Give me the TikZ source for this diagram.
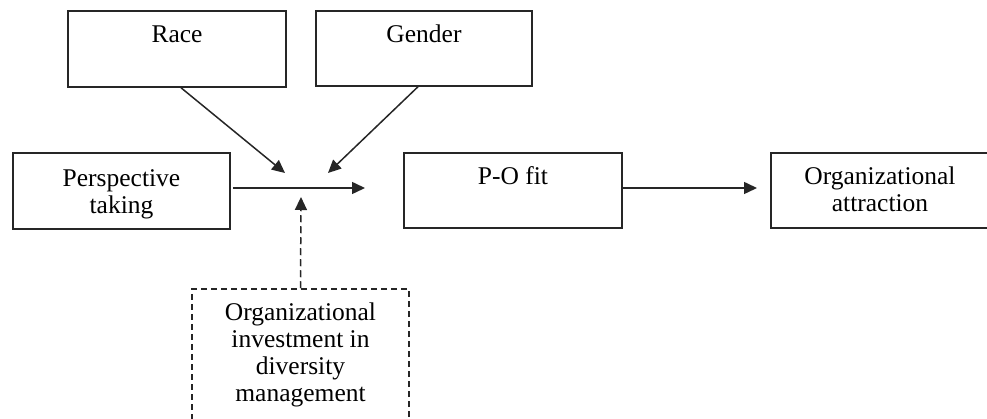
\documentclass[tikz,border=0pt]{standalone}
\usepackage{fontspec}
\setmainfont{Liberation Serif}
\usetikzlibrary{arrows.meta}
\newcommand\boxtxt[4]{\parbox[c][#2][t]{#1}{\centering\vspace*{#3}\strut #4}}
\tikzset{
  boxnode/.style={draw=black!85, line width=1.5pt, inner sep=0pt, font=\fontsize{25.5}{27}\selectfont},
  dashbox/.style={boxnode, dash pattern=on 6pt off 4pt},
  arr/.style={draw=black!85, line width=1.5pt, -{Triangle[length=13pt,width=12pt]}},
  dasharr/.style={arr, dash pattern=on 7pt off 4pt}
}
\begin{document}
\begin{tikzpicture}[x=1pt,y=-1pt]
\useasboundingbox (0,0) rectangle (987,419);
\node[boxnode] (race) at (177,49) {\boxtxt{218pt}{76pt}{13pt}{Race}};
\node[boxnode] (gender) at (424,48.5) {\boxtxt{216pt}{75pt}{13pt}{Gender}};
\node[boxnode] (persp) at (121.5,191) {\boxtxt{217pt}{76pt}{14.5pt}{Perspective\\taking}};
\node[boxnode] (pofit) at (513,190.5) {\boxtxt{218pt}{75pt}{13pt}{P-O fit}};
\node[boxnode] (attr) at (880,190.5) {\boxtxt{218pt}{75pt}{13pt}{Organizational\\attraction}};
\node[dashbox] (invest) at (300.5,364.5) {\boxtxt{217pt}{151pt}{12.5pt}{Organizational\\investment in\\diversity\\management}};
\coordinate (mid) at (365,188);
\coordinate (racetip) at (285,173);
\coordinate (gendertip) at (328,173);
\coordinate (investtip) at (301,197);
\coordinate (attrtip) at (757,188);
\draw[arr] (persp.east |- mid) ++(2,0) -- (mid);
\draw[arr] ([xshift=4pt]race.south) -- (racetip);
\draw[arr] ([xshift=-6pt]gender.south) -- (gendertip);
\draw[dasharr] (invest.north) -- (investtip);
\draw[arr] (pofit.east |- attrtip) -- (attrtip);
\end{tikzpicture}
\end{document}
